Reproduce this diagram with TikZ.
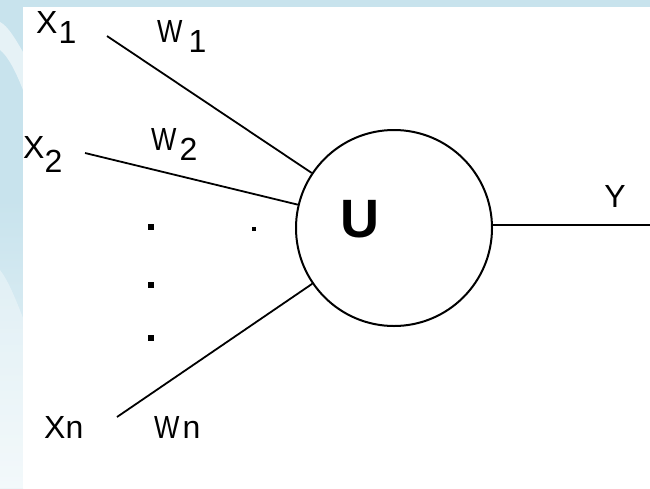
\documentclass[tikz,border=0pt]{standalone}
\usepackage{fontspec}
\setmainfont{Liberation Sans}
\usepackage{graphicx}

\definecolor{skyA}{HTML}{C8E3ED}
\definecolor{skyB}{HTML}{EDF6F9}

\begin{document}
\begin{tikzpicture}[x=1pt,y=-1pt,
  wire/.style={line width=1.8pt},
  lbl/.style={font=\fontsize{32}{32}\selectfont, inner sep=0pt, anchor=base west},
  bigdot/.style={fill=black, minimum size=6pt, inner sep=0pt},
  smalldot/.style={fill=black, minimum size=4pt, inner sep=0pt},
  neuron/.style={circle, draw, line width=2pt, minimum size=196pt, inner sep=0pt}]

\useasboundingbox (0,0) rectangle (650,488);

% pale blue backdrop with soft streaks on the left edge
\fill[skyA] (0,0) rectangle (650,488);
\shade[top color=skyA, bottom color=skyB] (0,200) rectangle (23,488);
\fill[white, opacity=0.55] (0,22) .. controls (8,26) and (16,40) .. (23,52)
  -- (23,90) .. controls (16,72) and (8,56) .. (0,50) -- cycle;
\fill[white, opacity=0.35] (0,270) .. controls (8,280) and (16,300) .. (23,318)
  -- (23,488) -- (0,488) -- cycle;

% white sheet
\fill[white] (23,7) rectangle (650,488);

% neuron body
\node[neuron] (u) at (394,228) {};
\node[font=\fontsize{54}{54}\selectfont\bfseries, inner sep=0pt, anchor=base] (ulbl) at (360,237) {U};

% input ends and output end
\coordinate (s1) at (107,36);
\coordinate (s2) at (85,153);
\coordinate (sn) at (117,417);
\coordinate (out) at (650,225);

\draw[wire] (s1) -- (u);
\draw[wire] (s2) -- (u);
\draw[wire] (sn) -- (u);
\draw[wire] (u.east |- out) -- (out);

% ellipsis dots for the omitted inputs
\node[bigdot] (d1) at (151,227) {};
\node[bigdot] (d2) at (151,285) {};
\node[bigdot] (d3) at (151,338) {};
\node[smalldot] (d4) at (254,229) {};

% input and weight labels
\node[lbl] (x1) at (36,33) {X\hspace{1pt}\raisebox{-10pt}{1}};
\node[lbl] (w1) at (157,42) {\scalebox{0.84}[1]{W}\hspace{6pt}\raisebox{-10pt}{1}};
\node[lbl] (x2) at (23,158) {X\raisebox{-14pt}{2}};
\node[lbl] (w2) at (151,150) {\scalebox{0.84}[1]{W}\hspace{3pt}\raisebox{-10pt}{2}};
\node[lbl] (xn) at (44,438) {Xn};
\node[lbl] (wn) at (154,438) {\scalebox{0.84}[1]{W}\hspace{3pt}n};

% output label
\node[font=\fontsize{32}{32}\selectfont, inner sep=0pt, anchor=base] (y) at (615,207) {Y};

\end{tikzpicture}
\end{document}
